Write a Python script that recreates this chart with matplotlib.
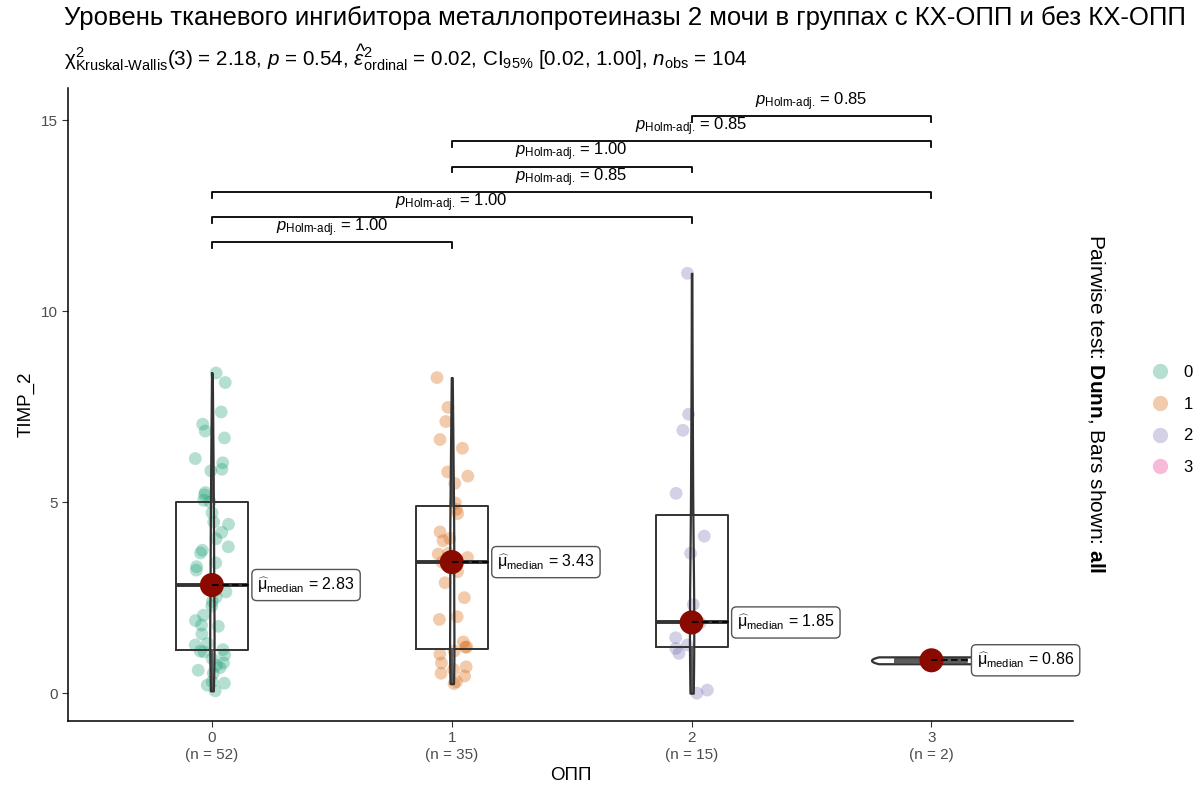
import numpy as np
import matplotlib
matplotlib.use("Agg")
import matplotlib.pyplot as plt
from matplotlib.lines import Line2D

plt.rcParams['font.family'] = ['Liberation Sans', 'DejaVu Sans']
plt.rcParams['mathtext.fontset'] = 'custom'
plt.rcParams['mathtext.rm'] = 'Liberation Sans'
plt.rcParams['mathtext.it'] = 'Liberation Sans:italic'
plt.rcParams['mathtext.bf'] = 'Liberation Sans:bold'

# data
groups = ['0', '1', '2', '3']
g0 = [8.38, 8.13, 7.36, 7.04, 6.86, 6.68, 6.14, 6.03, 5.86, 5.82, 5.25, 5.19, 5.05,
      5.00, 4.72, 4.48, 4.42, 4.21, 4.04, 3.83, 3.74, 3.67, 3.41, 3.31, 3.22, 2.86,
      2.80, 2.65, 2.52, 2.40, 2.28, 2.04, 1.90, 1.78, 1.75, 1.55, 1.30, 1.26, 1.14,
      1.10, 1.08, 1.00, 0.90, 0.79, 0.73, 0.67, 0.60, 0.52, 0.30, 0.26, 0.21, 0.06]
g1 = [8.26, 7.48, 7.11, 6.64, 6.41, 5.79, 5.68, 5.49, 4.98, 4.81, 4.70, 4.22, 4.05,
      3.99, 3.66, 3.64, 3.55, 3.43, 3.18, 2.89, 2.50, 2.00, 1.93, 1.34, 1.21, 1.20,
      1.10, 1.02, 0.79, 0.69, 0.62, 0.52, 0.45, 0.30, 0.25]
g2 = [10.99, 7.30, 6.88, 5.23, 4.11, 3.66, 2.32, 1.85, 1.84, 1.45, 1.26, 1.17, 1.04,
      0.08, 0.00]
g3 = [0.95, 0.77]
values = [g0, g1, g2, g3]

pairs = [(0, 1), (0, 2), (0, 3), (1, 2), (1, 3), (2, 3)]
p_adj = ['1.00', '1.00', '0.85', '1.00', '0.85', '0.85']

colors = ['#1B9E77', '#D95F02', '#7570B3', '#E7298A']

title = 'Уровень тканевого ингибитора металлопротеиназы 2 мочи в группах с КХ-ОПП и без КХ-ОПП'
subtitle = (r'$\mathrm{\chi}^2_{\text{Kruskal-Wallis}}$(3) = 2.18, $p$ = 0.54, '
            r'$\widehat{\epsilon}^2_{\mathrm{ordinal}}$ = 0.02, CI$_{\mathrm{95\%}}$ [0.02, 1.00], '
            r'$n_{\mathrm{obs}}$ = 104')

fig = plt.figure(figsize=(11.97, 7.92), dpi=100)
ax = fig.add_axes([0.0568, 0.0896, 0.8396, 0.7993])

pos = np.arange(len(groups))
rng = np.random.default_rng(7)

for i, v in enumerate(values):
    xj = pos[i] + rng.uniform(-0.07, 0.07, len(v))
    ax.scatter(xj, v, s=85, color=colors[i], alpha=0.32, edgecolors='none', zorder=2)

ax.boxplot(values, positions=pos, widths=0.3, showfliers=False, whis=1.5,
           boxprops=dict(color='#333333', lw=1.4),
           whiskerprops=dict(color='#333333', lw=1.4),
           capprops=dict(lw=0),
           medianprops=dict(color='#333333', lw=2.8), zorder=3)

vp = ax.violinplot(values, positions=pos, widths=[0.018, 0.018, 0.018, 0.5],
                   showextrema=False)
for body in vp['bodies']:
    body.set_alpha(None)
    body.set_facecolor((1, 1, 1, 0.2))
    body.set_edgecolor((0.2, 0.2, 0.2, 1))
    body.set_linewidth(1.6)
    body.set_zorder(4)

for i, v in enumerate(values):
    med = np.median(v)
    ax.scatter(pos[i], med, s=300, color='#8B0A00', zorder=6, edgecolors='none')
    ax.plot([pos[i], pos[i] + 0.16], [med, med], color='black', lw=1.2, ls=(0, (4, 2)), zorder=7)
    ax.text(pos[i] + 0.19, med, r'$\widehat{\mathrm{\mu}}_{\mathrm{median}}$ = %.2f' % med,
            fontsize=11.5, va='center', ha='left', zorder=8,
            bbox=dict(boxstyle='round,pad=0.35,rounding_size=0.3', fc='white',
                      ec='#555555', lw=1))

# pairwise bars
for k, ((a, b), p) in enumerate(zip(pairs, p_adj)):
    y = 11.8 + k * 0.66
    ax.plot([a, a, b, b], [y - 0.15, y, y, y - 0.15], color='black', lw=1.3, zorder=5)
    ax.text((a + b) / 2, y + 0.38, r'$p_{\text{Holm-adj.}}$ = ' + p,
            fontsize=12, ha='center', va='center')

ax.set_xlim(-0.6, 3.59)
ax.set_ylim(-0.73, 15.84)
ax.set_yticks([0, 5, 10, 15])
ax.set_xticks(pos)
ax.set_xticklabels(['%s\n(n = %d)' % (g, len(v)) for g, v in zip(groups, values)])
ax.tick_params(labelsize=11, labelcolor='#4D4D4D', color='#333333', length=4)
ax.spines['top'].set_visible(False)
ax.spines['right'].set_visible(False)
ax.spines['left'].set_linewidth(1.1)
ax.spines['bottom'].set_linewidth(1.1)
ax.set_xlabel('ОПП', fontsize=13.5)
ax.set_ylabel('TIMP_2', fontsize=13.5)

fig.text(64 / 1197, 1 - 18 / 792, title, fontsize=18.5, ha='left', va='center')
fig.text(64 / 1197, 1 - 58 / 792, subtitle, fontsize=14.9, ha='left', va='center')

fig.text(1097 / 1197, 1 - 404 / 792,
         r'Pairwise test: $\mathbf{Dunn}$, Bars shown: $\mathbf{all}$',
         fontsize=15, rotation=270, ha='center', va='center')

handles = [Line2D([], [], marker='o', ls='', markersize=11, color=c, alpha=0.32,
                  markeredgewidth=0) for c in colors]
fig.legend(handles, groups, loc='center', bbox_to_anchor=(1168 / 1197, 1 - 420 / 792),
           frameon=False, fontsize=12, handletextpad=0.4, labelspacing=1.0)

fig.savefig('out.png', dpi=100)
